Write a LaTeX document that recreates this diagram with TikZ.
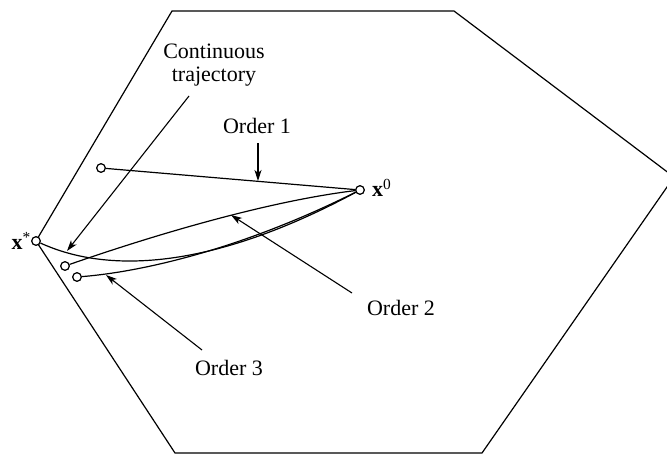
\documentclass[tikz,border=0pt]{standalone}
\usepackage{fontspec}
\setmainfont{Liberation Serif}
\usetikzlibrary{arrows.meta}
\tikzset{
  pt/.style={circle,draw,fill=white,minimum size=8.5pt,inner sep=0pt,line width=1.1pt},
  lbl/.style={font=\fontsize{22}{25}\selectfont,inner sep=0pt,align=center},
  curve/.style={line width=1.2pt},
  pointer/.style={line width=1.1pt,-{Stealth[length=11pt,width=7pt,inset=3pt]}},
  edge/.style={line width=1.2pt}
}
\begin{document}
\begin{tikzpicture}[x=1pt,y=-1pt]
\useasboundingbox (0,0) rectangle (667,455);
% feasible polytope
\draw[edge] (172,11) -- (454,11) -- (674,177) -- (482,453) -- (175,453) -- (36,241) -- cycle;
% points
\node[pt] (xs) at (36,241) {};
\node[pt] (x0) at (360,190) {};
\node[pt] (o1) at (101,168) {};
\node[pt] (o2) at (65,266) {};
\node[pt] (o3) at (77,277) {};
% trajectories
\draw[curve] (o1) -- (x0);
\draw[curve] (o2) .. controls +(95,-33) and +(-90,11) .. (x0);
\draw[curve] (xs) .. controls +(74,34) and +(-145,78) .. (x0);
\draw[curve] (o3) .. controls +(63,-5) and +(-120,60) .. (x0);
% redraw points on top
\node[pt] at (xs) {};
\node[pt] at (x0) {};
\node[pt] at (o1) {};
\node[pt] at (o2) {};
\node[pt] at (o3) {};
% labels
\node[lbl] (lct) at (214,65) {Continuous\\[-2pt]trajectory};
\node[lbl] (l1) at (257,126) {Order 1};
\node[lbl] (l2) at (401,308) {Order 2};
\node[lbl] (l3) at (229,368) {Order 3};
\node[lbl,anchor=east] (lxs) at (31,241) {\textbf{x}\textsuperscript{*}};
\node[lbl,anchor=west] (lx0) at (372,188) {\textbf{x}\textsuperscript{0}};
% pointer coordinates
\coordinate (ct0) at (189,96);
\coordinate (ct1) at (67,251);
\coordinate (a10) at (258,143);
\coordinate (a11) at (258,181);
\coordinate (a20) at (352,293);
\coordinate (a21) at (231,215);
\coordinate (a30) at (202,350);
\coordinate (a31) at (106,275);
\draw[pointer] (ct0) -- (ct1);
\draw[pointer] (a10) -- (a11);
\draw[pointer] (a20) -- (a21);
\draw[pointer] (a30) -- (a31);
\end{tikzpicture}
\end{document}
